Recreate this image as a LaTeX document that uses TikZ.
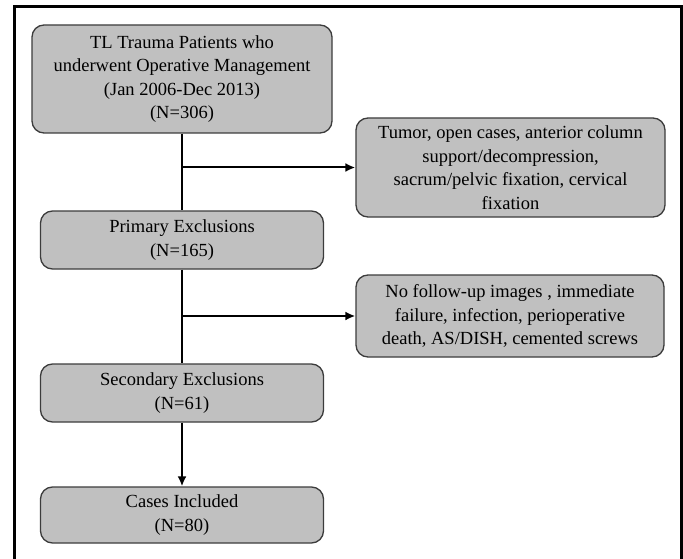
\documentclass[tikz,border=0pt]{standalone}
\usepackage{fontspec}
\setmainfont{Liberation Serif}
\usetikzlibrary{arrows.meta,calc}
\definecolor{BoxClr}{RGB}{192,192,192}
\definecolor{EdgeClr}{RGB}{60,60,60}

\begin{document}
\begin{tikzpicture}[x=1pt,y=-1pt,
  box/.style={draw=EdgeClr,fill=BoxClr,line width=1.3pt,rounded corners=12pt,
    align=center,inner sep=0pt,font=\fontsize{18.5}{23.5}\selectfont},
  link/.style={line width=2pt,black},
  tip/.style={-{Latex[length=10pt,width=9pt]}}]
\useasboundingbox (0,0) rectangle (683,559);
\draw[line width=3pt] (14,600) -- (14,7) -- (681,7) -- (681,600);

\node[box,minimum width=300pt,minimum height=108pt] (Total) at (182,79)
  {TL Trauma Patients who\\underwent Operative Management\\(Jan 2006-Dec 2013)\\(N=306)};
\node[box,minimum width=309pt,minimum height=99pt] (ExA) at (510.5,167.5)
  {Tumor, open cases, anterior column\\support/decompression,\\sacrum/pelvic fixation, cervical\\fixation};
\node[box,minimum width=283pt,minimum height=58pt] (Prim) at (182,240)
  {Primary Exclusions\\(N=165)};
\node[box,minimum width=308pt,minimum height=82pt] (ExB) at (510,316)
  {No follow-up images , immediate\\failure, infection, perioperative\\death, AS/DISH, cemented screws};
\node[box,minimum width=283pt,minimum height=58pt] (Sec) at (182,393)
  {Secondary Exclusions\\(N=61)};
\node[box,minimum width=283pt,minimum height=56pt] (Incl) at (182,515)
  {Cases Included\\(N=80)};

\coordinate (BrA) at (Total.south |- ExA.west);
\coordinate (BrB) at (Prim.south |- ExB.west);

\draw[link] (Total.south) -- (Prim.north);
\draw[link] (Prim.south) -- (Sec.north);
\draw[link,tip] (Sec.south) -- (Incl.north);
\draw[link,tip] (BrA) -- (ExA.west);
\draw[link,tip] (BrB) -- (ExB.west);

\end{tikzpicture}
\end{document}
